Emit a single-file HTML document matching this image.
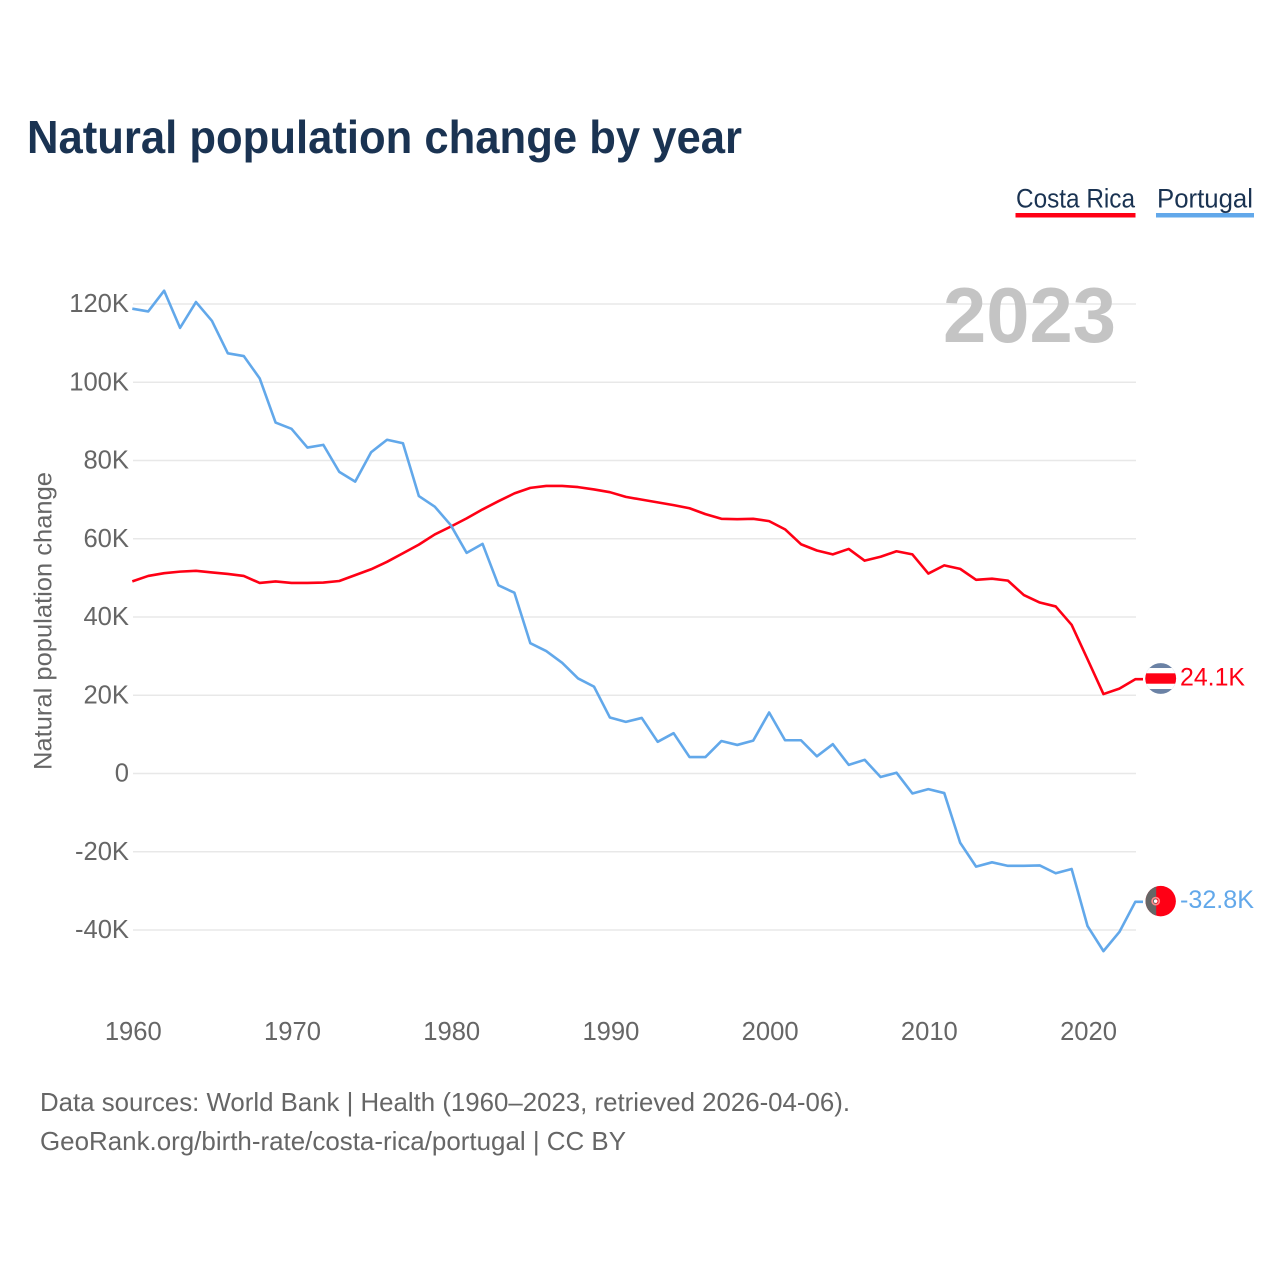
<!DOCTYPE html>
<html lang="en">
<head>
<meta charset="utf-8">
<title>Natural population change by year</title>
<style>
html,body{margin:0;padding:0;background:#fff;}
svg{display:block;}
text{font-family:"Liberation Sans",sans-serif;}
</style>
</head>
<body>
<svg id="chart" xmlns="http://www.w3.org/2000/svg" width="1280" height="1280" viewBox="0 0 1280 1280">
  <rect width="1280" height="1280" fill="#ffffff"/>
  <text x="27" y="153" font-size="46" font-weight="700" fill="#1a3352" textLength="715" lengthAdjust="spacingAndGlyphs">Natural population change by year</text>

  <g>
    <g>
      <text x="1016" y="207.5" font-size="27" fill="#1a3352" textLength="119" lengthAdjust="spacingAndGlyphs">Costa Rica</text>
      <rect x="1015.5" y="213" width="120" height="4.5" fill="#ff0015"/>
    </g>
    <g>
      <text x="1157" y="207.5" font-size="27" fill="#1a3352" textLength="96" lengthAdjust="spacingAndGlyphs">Portugal</text>
      <rect x="1156" y="213" width="98" height="4.5" fill="#62a8ea"/>
    </g>
  </g>

  <g id="grid"></g>
  <g id="yticks"></g>
  <g id="xticks"></g>

  <text x="943" y="342" font-size="78" font-weight="700" fill="#c4c4c4" textLength="173" lengthAdjust="spacingAndGlyphs">2023</text>

  <text transform="translate(51.5,770) rotate(-90)" font-size="25" fill="#666666" textLength="298" lengthAdjust="spacingAndGlyphs">Natural population change</text>

  <g id="series"></g>
  <g id="ends"></g>

  <g>
    <text x="40" y="1111" font-size="26" fill="#666666" textLength="810" lengthAdjust="spacingAndGlyphs">Data sources: World Bank | Health (1960–2023, retrieved 2026-04-06).</text>
    <text x="40" y="1150" font-size="26" fill="#666666" textLength="586" lengthAdjust="spacingAndGlyphs">GeoRank.org/birth-rate/costa-rica/portugal | CC BY</text>
  </g>
</svg>
<script>
const startYear = 1960;
const yTickValues = [120, 100, 80, 60, 40, 20, 0, -20, -40];
const yTickLabels = ["120K", "100K", "80K", "60K", "40K", "20K", "0", "-20K", "-40K"];
const xTickYears = [1960, 1970, 1980, 1990, 2000, 2010, 2020];
const costaRicaValues = [
  49.1, 50.5, 51.2, 51.6, 51.8, 51.4, 51.0, 50.5, 48.7, 49.1,
  48.7, 48.7, 48.8, 49.2, 50.7, 52.2, 54.1, 56.3, 58.5, 61.1,
  63.1, 65.2, 67.5, 69.6, 71.6, 73.0, 73.5, 73.5, 73.2, 72.6,
  71.9, 70.7, 70.0, 69.3, 68.6, 67.8, 66.3, 65.1, 65.0, 65.1,
  64.5, 62.4, 58.6, 57.0, 56.0, 57.4, 54.4, 55.4, 56.8, 56.0,
  51.1, 53.2, 52.3, 49.5, 49.8, 49.3, 45.6, 43.7, 42.7, 38.0,
  29.2, 20.3, 21.7, 24.1
];
const portugalValues = [
  118.8, 118.1, 123.4, 113.9, 120.5, 115.7, 107.4, 106.7, 101.0, 89.7,
  88.1, 83.3, 84.0, 77.1, 74.6, 82.1, 85.3, 84.4, 70.9, 68.2,
  63.5, 56.4, 58.7, 48.1, 46.2, 33.3, 31.3, 28.3, 24.3, 22.2,
  14.3, 13.2, 14.2, 8.1, 10.3, 4.2, 4.2, 8.3, 7.3, 8.4,
  15.6, 8.5, 8.5, 4.4, 7.5, 2.2, 3.5, -0.9, 0.2, -5.1,
  -4.0, -5.0, -17.7, -23.8, -22.7, -23.6, -23.6, -23.5, -25.5, -24.4,
  -39.0, -45.4, -40.5, -32.8
];
const costaRicaEndLabel = "24.1K";
const portugalEndLabel = "-32.8K";

const NS = "http://www.w3.org/2000/svg";
const RED = "#ff0015";
const BLUE = "#62a8ea";
const plotLeft = 133;
const plotRight = 1136;
const seriesShift = -0.7;
const yearStep = (plotRight - plotLeft) / 63;
const zeroY = 773.5;
const pxPerK = 3.9125;
const flagX = 1160.7;

function xScale(year) { return plotLeft + (year - startYear) * yearStep; }
function yScale(value) { return zeroY - value * pxPerK; }
function make(tag, parent) {
  const el = document.createElementNS(NS, tag);
  parent.appendChild(el);
  return el;
}
function setAll(el, props) {
  Object.keys(props).forEach(function (k) { el.setAttribute(k, props[k]); });
}

const gridGroup = document.getElementById("grid");
const yGroup = document.getElementById("yticks");
const xGroup = document.getElementById("xticks");
const seriesGroup = document.getElementById("series");
const endGroup = document.getElementById("ends");

yTickValues.forEach(function (v, i) {
  const line = make("line", gridGroup);
  
  
  setAll(line, { x1: plotLeft, x2: plotRight, y1: yScale(v), y2: yScale(v), stroke: "#e8e8e8", "stroke-width": 1.5 });
  const label = make("text", yGroup);
  
  
  setAll(label, { x: 129, y: yScale(v) + 8, "text-anchor": "end", "font-size": 25.6, fill: "#666666" });
  label.textContent = yTickLabels[i];
});

xTickYears.forEach(function (year) {
  const label = make("text", xGroup);
  
  
  setAll(label, { x: xScale(year) + 0.3, y: 1040, "text-anchor": "middle", "font-size": 25.6, fill: "#666666" });
  label.textContent = String(year);
});

function pointsFor(values) {
  return values.map(function (v, i) {
    return (xScale(startYear + i) + seriesShift).toFixed(2) + "," + yScale(v).toFixed(2);
  }).join(" ");
}

function drawLine(values, color) {
  const line = make("polyline", seriesGroup);
  const lastY = yScale(values[values.length - 1]);
  line.setAttribute("points", pointsFor(values) + " 1143," + lastY.toFixed(2));
  setAll(line, { fill: "none", stroke: color, "stroke-width": 2.6, "stroke-linejoin": "round" });
  return line;
}

const costaRicaLine = drawLine(costaRicaValues, RED);



const portugalLine = drawLine(portugalValues, BLUE);



/* End markers follow the last data value */
const crY = yScale(costaRicaValues[costaRicaValues.length - 1]) - 0.7;
const portY = yScale(portugalValues[portugalValues.length - 1]) - 0.7;

const defs = make("defs", endGroup);
const clipCr = make("clipPath", defs);
clipCr.setAttribute("id", "clip-cr");
setAll(make("circle", clipCr), { cx: flagX, cy: crY, r: 15.4 });
const clipPt = make("clipPath", defs);
clipPt.setAttribute("id", "clip-pt");
setAll(make("circle", clipPt), { cx: flagX, cy: portY, r: 15.2 });

const crFlag = make("g", endGroup);


crFlag.setAttribute("clip-path", "url(#clip-cr)");
setAll(make("rect", crFlag), { x: flagX - 16, y: crY - 16, width: 32, height: 32, fill: "#6b82a5" });
setAll(make("rect", crFlag), { x: flagX - 16, y: crY - 10.5, width: 32, height: 21, fill: "#ffffff" });
setAll(make("rect", crFlag), { x: flagX - 16, y: crY - 5.2, width: 32, height: 10.4, fill: RED });

const crLabel = make("text", endGroup);


setAll(crLabel, { x: 1180, y: crY + 6.8, "font-size": 25, fill: RED, textLength: 65, lengthAdjust: "spacingAndGlyphs" });
crLabel.textContent = costaRicaEndLabel;

const ptFlag = make("g", endGroup);


ptFlag.setAttribute("clip-path", "url(#clip-pt)");
setAll(make("rect", ptFlag), { x: flagX - 16, y: portY - 16, width: 32, height: 32, fill: RED });
setAll(make("rect", ptFlag), { x: flagX - 16, y: portY - 16, width: 11.5, height: 32, fill: "#666666" });
setAll(make("circle", ptFlag), { cx: flagX - 5, cy: portY, r: 3.6, fill: "none", stroke: "#ff8a8a", "stroke-width": 1.6 });
setAll(make("circle", ptFlag), { cx: flagX - 5, cy: portY, r: 1.8, fill: "#ffffff" });

const ptLabel = make("text", endGroup);


setAll(ptLabel, { x: 1180, y: portY + 6.8, "font-size": 25, fill: BLUE, textLength: 74, lengthAdjust: "spacingAndGlyphs" });
ptLabel.textContent = portugalEndLabel;
</script>
</body>
</html>
